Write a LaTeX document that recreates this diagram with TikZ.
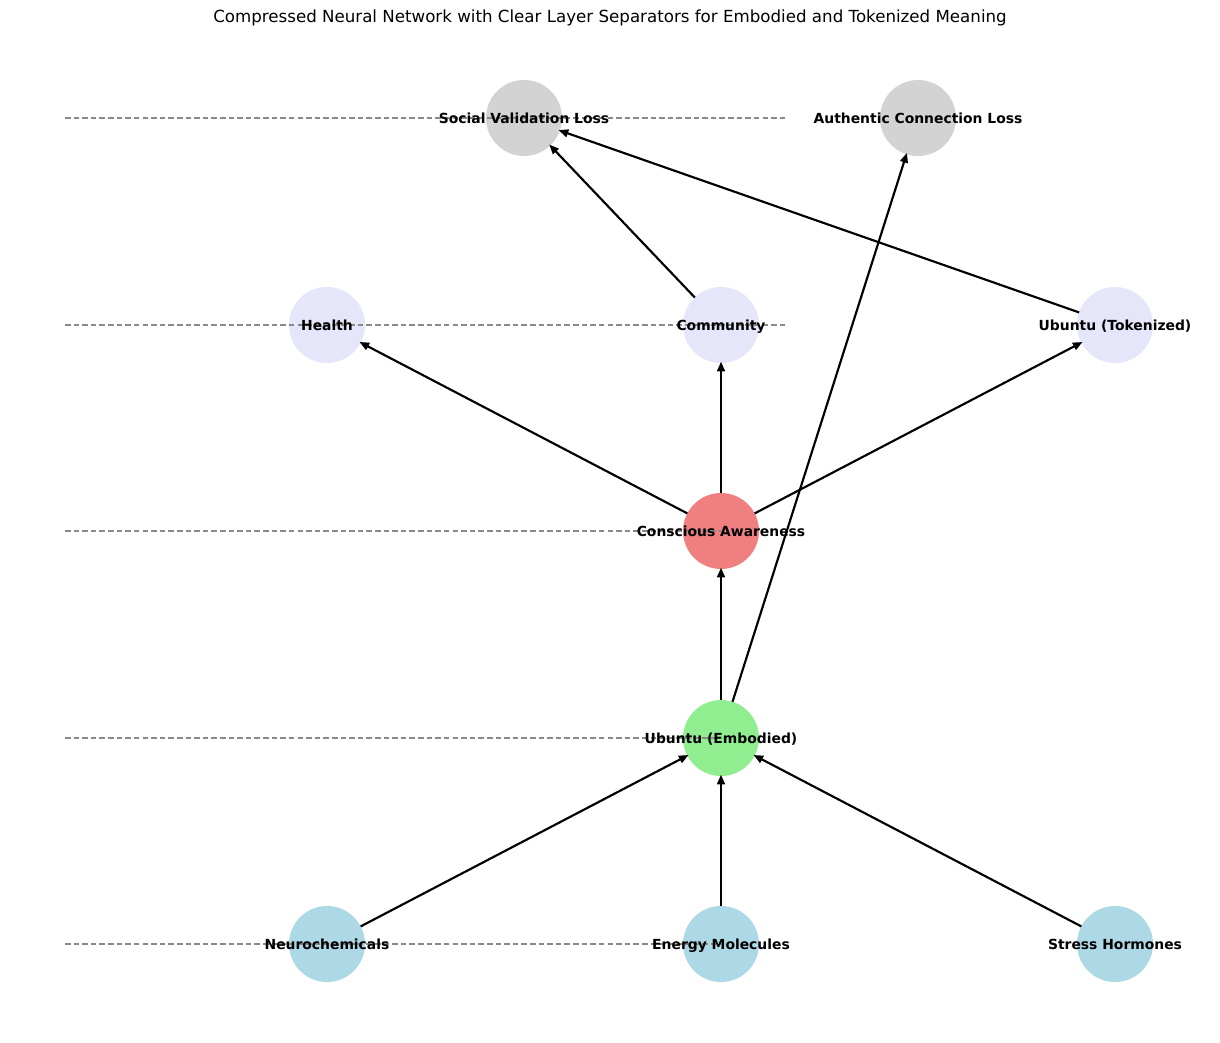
\documentclass[tikz,border=0pt]{standalone}
\usepackage{fontspec}
\setmainfont{DejaVu Sans}
\usetikzlibrary{arrows.meta}
\definecolor{lblue}{HTML}{ADD8E6}
\definecolor{lgreen}{HTML}{90EE90}
\definecolor{lcoral}{HTML}{F08080}
\definecolor{lav}{HTML}{E6E6FA}
\definecolor{lgray}{HTML}{D3D3D3}
\definecolor{sepgray}{HTML}{888888}
\tikzset{
  neuron/.style={circle, minimum size=54.72pt, inner sep=0pt, outer sep=0pt, draw=none},
  lbl/.style={font=\fontsize{10}{12}\selectfont\bfseries, inner sep=0pt, text=black, text height=7.3pt, text depth=0pt},
  arr/.style={line width=1.55pt, -{Triangle[length=7pt,width=5.6pt]}, shorten >=-1pt},
  sep/.style={line width=1.1pt, sepgray, dash pattern=on 4pt off 2.2pt}
}
\begin{document}
\begin{tikzpicture}[x=0.72pt,y=-0.72pt]
\path[use as bounding box, fill=white] (0,0) rectangle (1220,1042);
\node[font=\fontsize{12}{14}\selectfont] (title) at (610,18) {Compressed Neural Network with Clear Layer Separators for Embodied and Tokenized Meaning};
% nodes
\node[neuron, fill=lgray] (sv) at (524,118) {};
\node[neuron, fill=lgray] (ac) at (918,118) {};
\node[neuron, fill=lav] (he) at (327,325) {};
\node[neuron, fill=lav] (co) at (721,325) {};
\node[neuron, fill=lav] (ut) at (1115,325) {};
\node[neuron, fill=lcoral] (ca) at (721,531) {};
\node[neuron, fill=lgreen] (ue) at (721,738) {};
\node[neuron, fill=lblue] (nc) at (327,944) {};
\node[neuron, fill=lblue] (em) at (721,944) {};
\node[neuron, fill=lblue] (sh) at (1115,944) {};
% edges
\draw[arr] (nc) -- (ue);
\draw[arr] (em) -- (ue);
\draw[arr] (sh) -- (ue);
\draw[arr] (ue) -- (ca);
\draw[arr] (ue) -- (ac);
\draw[arr] (ca) -- (he);
\draw[arr] (ca) -- (co);
\draw[arr] (ca) -- (ut);
\draw[arr] (co) -- (sv);
\draw[arr] (ut) -- (sv);
% separators
\coordinate (s1a) at (65,118); \coordinate (s1b) at (787,118);
\coordinate (s2a) at (65,325); \coordinate (s2b) at (787,325);
\coordinate (s3a) at (65,531); \coordinate (s3b) at (721,531);
\coordinate (s4a) at (65,738); \coordinate (s4b) at (721,738);
\coordinate (s5a) at (65,944); \coordinate (s5b) at (721,944);
\draw[sep] (s1a) -- (s1b);
\draw[sep] (s2a) -- (s2b);
\draw[sep] (s3a) -- (s3b);
\draw[sep] (s4a) -- (s4b);
\draw[sep] (s5a) -- (s5b);
% labels
\node[lbl] (sv-t) at (sv) {Social Validation Loss};
\node[lbl] (ac-t) at (ac) {Authentic Connection Loss};
\node[lbl] (he-t) at (he) {Health};
\node[lbl] (co-t) at (co) {Community};
\node[lbl] (ut-t) at (ut) {Ubuntu (Tokenized)};
\node[lbl] (ca-t) at (ca) {Conscious Awareness};
\node[lbl] (ue-t) at (ue) {Ubuntu (Embodied)};
\node[lbl] (nc-t) at (nc) {Neurochemicals};
\node[lbl] (em-t) at (em) {Energy Molecules};
\node[lbl] (sh-t) at (sh) {Stress Hormones};
\end{tikzpicture}
\end{document}
